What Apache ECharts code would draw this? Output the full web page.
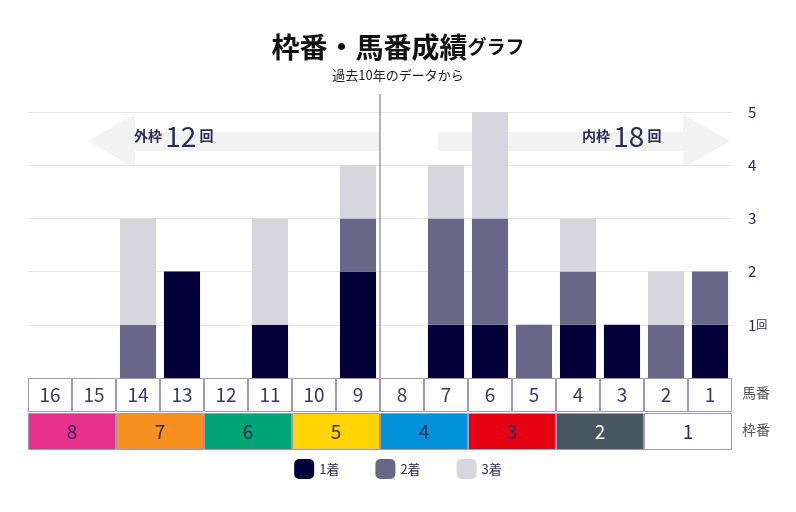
<!DOCTYPE html>
<html><head><meta charset="utf-8">
<script src="https://cdn.jsdelivr.net/npm/echarts@6/dist/echarts.min.js"></script>
<style>html,body{margin:0;background:#fff}#c{width:796px;height:512px}</style>
</head><body><div id="c"></div>
<script>
const umaban = ['16','15','14','13','12','11','10','9','8','7','6','5','4','3','2','1']
const first  = [0,0,0,2,0,1,0,2,0,1,1,0,1,1,0,1]
const second = [0,0,1,0,0,0,0,1,0,2,2,1,1,0,1,1]
const third  = [0,0,2,0,0,2,0,1,0,1,2,0,1,0,1,0]
const wakuban = ['8','7','6','5','4','3','2','1']
const wakuColors = ['#e8318c','#f7901e','#00a574','#ffd400','#0092db','#e60012','#48565f','#ffffff']
const outerTotal = 12, innerTotal = 18

const navy = '#2b2a58'
const font = '"Noto Sans CJK JP", "Noto Sans", sans-serif'
const chart = echarts.init(document.getElementById('c'))

const arrowL = [[88,141],[135,114],[135,132],[380,132],[380,151],[135,151],[135,168]]
const arrowR = arrowL.map(p => [818 - p[0], p[1]])

chart.setOption({
    textStyle: { fontFamily: font },
    title: {
        left: 'center', top: 28,
        text: '{a|枠番・馬番成績}{b|グラフ}',
        subtext: '過去10年のデータから',
        itemGap: 8,
        textStyle: { rich: {
            a: { fontSize: 28, fontWeight: 'bold', color: '#111', fontFamily: font },
            b: { fontSize: 19, fontWeight: 'bold', color: '#111', fontFamily: font }
        } },
        subtextStyle: { fontSize: 13, color: '#222', fontFamily: font }
    },
    legend: {
        bottom: 28, left: 'center', itemWidth: 20, itemHeight: 20, itemGap: 36,
        textStyle: { fontSize: 13, color: navy },
        data: ['1着', '2着', '3着']
    },
    grid: [
        { left: 28, right: 64, top: 112, bottom: 134 },
        { left: 28, right: 64, top: 378, height: 34 },
        { left: 28, right: 64, top: 413, height: 37 }
    ],
    xAxis: [
        { gridIndex: 0, type: 'category', data: umaban, axisLine: { show: false }, axisTick: { show: false }, axisLabel: { show: false } },
        { gridIndex: 1, type: 'category', data: umaban, show: false },
        { gridIndex: 2, type: 'category', data: wakuban, show: false }
    ],
    yAxis: [
        { gridIndex: 0, type: 'value', position: 'right', min: 0, max: 5, interval: 1,
          axisLabel: { color: navy, fontSize: 15, margin: 16, formatter: v => v === 0 ? '' : (v === 1 ? '1{s|回}' : String(v)),
                       rich: { s: { fontSize: 11, color: navy } } },
          splitLine: { lineStyle: { color: '#e6e6e6' } } },
        { gridIndex: 1, type: 'value', min: 0, max: 1, show: false },
        { gridIndex: 2, type: 'value', min: 0, max: 1, show: false }
    ],
    series: [
        { name: '1着', type: 'bar', stack: 's', data: first, barWidth: '82%', itemStyle: { color: '#06003a' } },
        { name: '2着', type: 'bar', stack: 's', data: second, itemStyle: { color: '#6a6688' } },
        { name: '3着', type: 'bar', stack: 's', data: third, itemStyle: { color: '#d6d6dc' } },
        { type: 'bar', xAxisIndex: 1, yAxisIndex: 1, data: umaban.map(() => 1), barWidth: '100%', silent: true,
          itemStyle: { color: '#fff', borderColor: '#9d99b6', borderWidth: 1 },
          label: { show: true, position: 'inside', formatter: p => umaban[p.dataIndex], color: '#3a3868', fontSize: 19 } },
        { type: 'bar', xAxisIndex: 2, yAxisIndex: 2, data: wakuban.map((w, i) => ({ value: 1, itemStyle: { color: wakuColors[i] } })),
          barWidth: '100%', silent: true,
          itemStyle: { borderColor: '#9d99b6', borderWidth: 1 },
          label: { show: true, position: 'inside', fontSize: 19, color: navy,
                   formatter: p => p.dataIndex === 6 ? '{w|2}' : wakuban[p.dataIndex],
                   rich: { w: { color: '#fff', fontSize: 19 } } } }
    ],
    graphic: [
        { type: 'polygon', shape: { points: arrowL }, style: { fill: '#f2f2f3' }, z: -1 },
        { type: 'polygon', shape: { points: arrowR }, style: { fill: '#f2f2f3' }, z: -1 },
        { type: 'text', left: 134, top: 122, style: { text: '{a|外枠 }{b|' + outerTotal + '}{a| 回}', rich: {
            a: { fontSize: 14, fontWeight: 'bold', fill: navy, fontFamily: font },
            b: { fontSize: 28, fill: navy, fontFamily: font } } } },
        { type: 'text', left: 582, top: 122, style: { text: '{a|内枠 }{b|' + innerTotal + '}{a| 回}', rich: {
            a: { fontSize: 14, fontWeight: 'bold', fill: navy, fontFamily: font },
            b: { fontSize: 28, fill: navy, fontFamily: font } } } },
        { type: 'line', shape: { x1: 380, y1: 94, x2: 380, y2: 378 }, style: { stroke: '#6a6688', lineWidth: 1 }, z: 10 },
        { type: 'text', left: 742, top: 386, style: { text: '馬番', fontSize: 14, fill: '#555', fontFamily: font } },
        { type: 'text', left: 742, top: 423, style: { text: '枠番', fontSize: 14, fill: '#555', fontFamily: font } }
    ]
})
</script>
</body></html>
